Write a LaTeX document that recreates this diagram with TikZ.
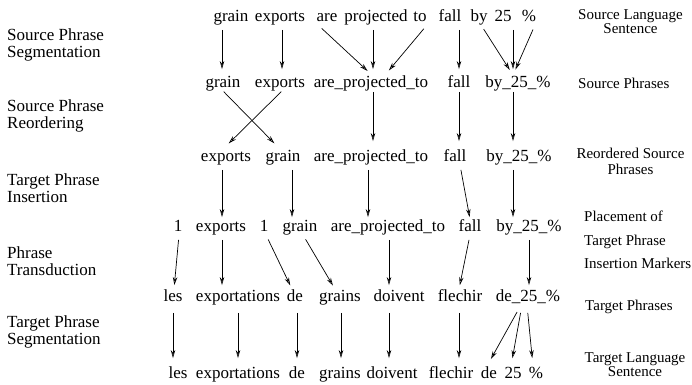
\documentclass[tikz,border=0pt]{standalone}
\usepackage{fontspec}
\setmainfont{Liberation Serif}
\usetikzlibrary{positioning}
\usetikzlibrary{arrows.meta}
\tikzstyle{word}=[inner sep=0pt,text height=12pt,text depth=3.5pt,font=\fontsize{17}{17}\selectfont]
\tikzstyle{steplabel}=[inner sep=0pt,anchor=west,align=left,font=\fontsize{17}{17}\selectfont]
\tikzstyle{levellabel}=[inner sep=0pt,font=\fontsize{15}{14}\selectfont]
\tikzstyle{edge} = [draw,line width=0.7pt,-{Stealth[open,length=8pt,width=4.5pt]}]

\begin{document}
\begin{tikzpicture}[x=1pt,y=-1pt]
\useasboundingbox (0,0) rectangle (692,384);

    % words, one row per stage
    \def\ry{17}
    \foreach \x/\name/\txt in {231/a1/grain, 280/a2/exports, 327/a3/are, 376/a4/projected, 420/a5/to, 450/a6/fall, 479/a7/by, 503/a8/25, 529/a9/\%}
        \node[word] (\name) at (\x,\ry) {\txt};

    \def\ry{83}
    \foreach \x/\name/\txt in {223/b1/grain, 280/b2/exports, 371/b3/are\_projected\_to, 459/b4/fall, 518/b5/by\_25\_\%}
        \node[word] (\name) at (\x,\ry) {\txt};

    \def\ry{157}
    \foreach \x/\name/\txt in {226/c1/exports, 283/c2/grain, 371/c3/are\_projected\_to, 455/c4/fall, 519/c5/by\_25\_\%}
        \node[word] (\name) at (\x,\ry) {\txt};

    \def\ry{227}
    \foreach \x/\name/\txt in {178/d1/1, 221/d2/exports, 264/d3/1, 300/d4/grain, 388/d5/are\_projected\_to, 470/d6/fall, 529/d7/by\_25\_\%}
        \node[word] (\name) at (\x,\ry) {\txt};

    \def\ry{297}
    \foreach \x/\name/\txt in {173/e1/les, 238/e2/exportations, 295/e3/de, 340/e4/grains, 399/e5/doivent, 460/e6/flechir, 528/e7/de\_25\_\%}
        \node[word] (\name) at (\x,\ry) {\txt};

    \def\ry{374}
    \foreach \x/\name/\txt in {178/f1/les, 238/f2/exportations, 297/f3/de, 340/f4/grains, 392/f5/doivent, 451/f6/flechir, 489/f7/de, 513/f8/25, 536/f9/\%}
        \node[word] (\name) at (\x,\ry) {\txt};

    % arrows between rows
    \foreach \s/\ds/\t/\dt in {a1/-9/b1/-1, a2/2/b2/2, a3/-9/b3/1, a4/-3/b3/2, a5/7/b3/14, a6/9/b4/0, a7/2/b5/-5, a8/10/b5/-5, a9/6/b5/-5}
        \path[edge,shorten <=5pt,shorten >=6pt] ([xshift=\ds pt]\s.south) -- ([xshift=\dt pt]\t.north);

    \foreach \s/\ds/\t/\dt in {b1/0/c2/-3, b2/2/c1/-3, b3/2/c3/2, b4/0/c4/4, b5/-5/c5/-6}
        \path[edge,shorten <=1pt,shorten >=8pt] ([xshift=\ds pt]\s.south) -- ([xshift=\dt pt]\t.north);

    \foreach \s/\ds/\t/\dt in {c1/-4/d2/1, c2/9/d4/-8, c3/-3/d5/-20, c4/5/d6/0, c5/-6/d7/-16}
        \path[edge,shorten <=5pt,shorten >=2pt] ([xshift=\ds pt]\s.south) -- ([xshift=\dt pt]\t.north);

    \foreach \s/\ds/\t/\dt in {d1/1/e1/1, d2/1/e2/-16, d3/2/e3/-3, d4/3/e4/-5, d5/1/e5/-10, d6/0/e6/-1, d7/0/e7/1}
        \path[edge,shorten <=5pt,shorten >=4pt] ([xshift=\ds pt]\s.south) -- ([xshift=\dt pt]\t.north);

    \foreach \s/\ds/\t/\dt in {e1/0/f1/-5, e2/0/f2/0, e3/2/f3/0, e4/1/f4/1, e5/-10/f5/-3, e6/-1/f6/8, e7/-7/f7/-2, e7/-6/f8/-2, e7/-1/f9/-3}
        \path[edge,shorten <=8pt,shorten >=8pt] ([xshift=\ds pt]\s.south) -- ([xshift=\dt pt]\t.north);

    % stages on the left
    \node[steplabel] (l1) at (7,44.5) {Source Phrase\\Segmentation};
    \node[steplabel] (l2) at (7,116) {Source Phrase\\Reordering};
    \node[steplabel] (l3) at (7,188.5) {Target Phrase\\Insertion};
    \node[steplabel] (l4) at (7,261.5) {Phrase\\Transduction};
    \node[steplabel] (l5) at (7,331.5) {Target Phrase\\Segmentation};

    % levels on the right
    \node[levellabel,align=center] (r1) at (630.5,22) {Source Language\\Sentence};
    \node[levellabel,anchor=west] (r2) at (578,83) {Source Phrases};
    \node[levellabel,align=center] (r3) at (630.5,161) {Reordered Source\\[2pt]Phrases};
    \node[levellabel,anchor=west,align=left] (r4) at (584,240) {Placement of\\[9.5pt]Target Phrase\\[9.5pt]Insertion Markers};
    \node[levellabel,anchor=west] (r5) at (585,307) {Target Phrases};
    \node[levellabel,align=center] (r6) at (635,365) {Target Language\\Sentence};

\end{tikzpicture}
\end{document}
